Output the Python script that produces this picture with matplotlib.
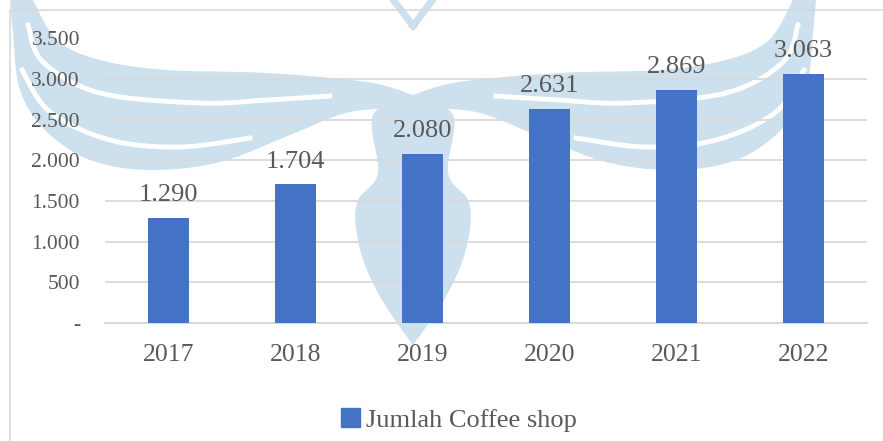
import matplotlib.pyplot as plt
import numpy as np
from matplotlib.patches import Polygon, Rectangle
from matplotlib.lines import Line2D

years = ["2017", "2018", "2019", "2020", "2021", "2022"]
jumlah = [1290, 1704, 2080, 2631, 2869, 3063]
label_teks = ["1.290", "1.704", "2.080", "2.631", "2.869", "3.063"]
yticks = [0, 500, 1000, 1500, 2000, 2500, 3000, 3500]
ytick_labels = ["-", "500", "1.000", "1.500", "2.000", "2.500", "3.000", "3.500"]
nama_seri = "Jumlah Coffee shop"

W, H = 883, 441
biru = "#4472C4"
abu = "#595959"
garis = "#D9D9D9"
watermark = "#CCE0EE"

plt.rcParams["font.family"] = ["Liberation Serif", "DejaVu Serif"]

fig = plt.figure(figsize=(W / 100, H / 100), dpi=100)


def px(pts):
    # piksel (dari kiri atas) -> koordinat figure
    return [(x / W, 1 - y / H) for x, y in pts]


def halus(pts, n=12):
    # catmull-rom sederhana
    p = np.array(pts, float)
    p = np.vstack([p[0], p, p[-1]])
    out = []
    for i in range(1, len(p) - 2):
        p0, p1, p2, p3 = p[i - 1], p[i], p[i + 1], p[i + 2]
        for t in np.linspace(0, 1, n, endpoint=False):
            out.append(0.5 * ((2 * p1) + (-p0 + p2) * t + (2 * p0 - 5 * p1 + 4 * p2 - p3) * t ** 2
                              + (-p0 + 3 * p1 - 3 * p2 + p3) * t ** 3))
    out.append(p[-2])
    return [tuple(q) for q in out]


# watermark logo (perkiraan kasar, simetris)
c = 413
atas = [(33, 0), (57, 40), (100, 60), (167, 70), (267, 73), (367, 82), (c, 95)]
bawah = [(10, 0), (13, 33), (20, 90), (45, 130), (90, 160), (150, 170), (220, 162),
         (290, 135), (350, 112), (c, 108)]
celah1 = [(28, 25), (43, 62), (100, 93), (200, 103), (267, 100), (330, 96)]
celah2 = [(22, 70), (50, 112), (110, 140), (180, 147), (250, 138)]
badan = [(c, 95), (c - 40, 115), (c - 35, 173), (c - 55, 200), (c - 57, 228), (c - 48, 265),
         (c - 28, 305), (c, 345)]


def cermin(pts):
    return [(2 * c - x, y) for x, y in pts]


for sisi in (lambda p: p, cermin):
    sayap = halus(sisi(atas)) + halus(sisi(bawah))[::-1]
    fig.add_artist(Polygon(px(sayap), closed=True, color=watermark, lw=0, zorder=-3))
    b = halus(sisi(badan))
    fig.add_artist(Polygon(px(b + [(c, 95)]), closed=True, color=watermark, lw=0, zorder=-3))
    for g in (celah1, celah2):
        fx, fy = zip(*px(halus(sisi(g))))
        fig.add_artist(Line2D(fx, fy, color="white", lw=3.5, zorder=-2))
    fx, fy = zip(*px(sisi([(392, -2), (c, 26)])))
    fig.add_artist(Line2D(fx, fy, color=watermark, lw=5, zorder=-3))

# bingkai
fx, fy = zip(*px([(10, H), (10, 10), (W, 10)]))
fig.add_artist(Line2D(fx, fy, color=garis, lw=1.2, zorder=-1))

ax = fig.add_axes([105 / W, 1 - 323 / H, (867 - 105) / W, (323 - 38.5) / H])
ax.patch.set_visible(False)

x = np.arange(len(years))
bars = ax.bar(x, jumlah, width=0.315, color=biru, zorder=3, label=nama_seri)

for xi, v, t in zip(x, jumlah, label_teks):
    ax.annotate(t, (xi, v), xytext=(0, 8.5), textcoords="offset points",
                ha="center", va="bottom", fontsize=19, color=abu)

ax.set_xlim(-0.5, len(years) - 0.5)
ax.set_ylim(0, 3500)
ax.set_yticks(yticks)
ax.set_yticklabels(ytick_labels)
ax.set_xticks(x)
ax.set_xticklabels(years)
ax.tick_params(axis="y", length=0, pad=18, labelsize=15.5, labelcolor=abu)
ax.tick_params(axis="x", length=0, pad=15, labelsize=18.5, labelcolor=abu)
ax.grid(axis="y", color=garis, lw=1.3, zorder=1)
for s in ("top", "right", "left"):
    ax.spines[s].set_visible(False)
ax.spines["bottom"].set_color(garis)
ax.spines["bottom"].set_linewidth(1.5)

handle = Rectangle((0, 0), 1, 1, color=biru)
fig.legend([handle], [nama_seri], loc="center", bbox_to_anchor=(0.52, 1 - 420 / H),
           frameon=False, fontsize=19, labelcolor=abu, handlelength=0.7,
           handleheight=0.7, handletextpad=0.25)

fig.savefig("out.png", dpi=100)
